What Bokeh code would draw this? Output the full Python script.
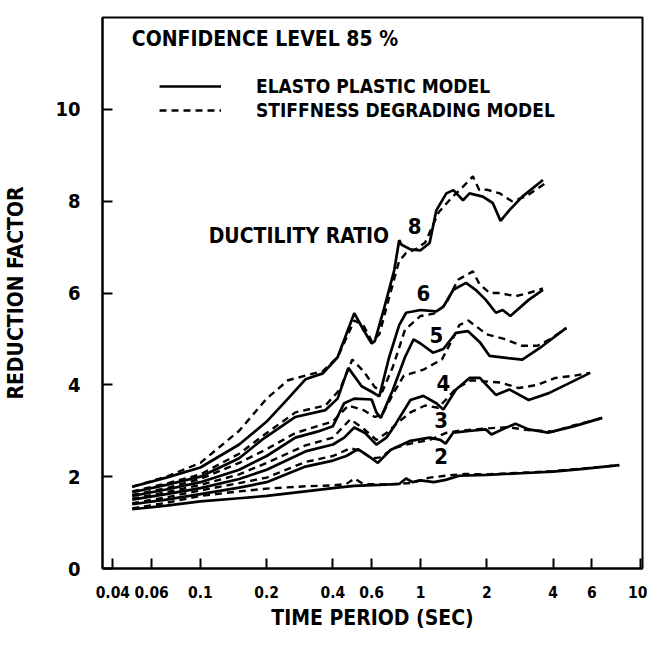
from bokeh.plotting import figure
from bokeh.models import (Range1d, FixedTicker, CustomJSTickFormatter, Legend, LegendItem, Label)
from bokeh.embed import file_html
from bokeh.resources import INLINE

FONT = "DejaVu Sans Condensed"

# ---- data ----
x_ticks = [0.04, 0.06, 0.1, 0.2, 0.4, 0.6, 1, 2, 4, 6, 10]
y_ticks = [0, 2, 4, 6, 8, 10]

EP2_T = [0.049, 0.07, 0.1, 0.15, 0.2, 0.3, 0.4, 0.5, 0.65, 0.8, 0.86, 0.92, 1.0, 1.15, 1.3, 1.5, 2.0, 3.0, 4.0, 5.5, 8.0]
EP2_R = [1.29, 1.37, 1.46, 1.53, 1.58, 1.68, 1.75, 1.80, 1.82, 1.84, 1.96, 1.88, 1.92, 1.88, 1.93, 2.02, 2.04, 2.08, 2.11, 2.17, 2.25]
SD2_T = [0.049, 0.07, 0.1, 0.15, 0.2, 0.3, 0.4, 0.46, 0.5, 0.55, 0.7, 0.9, 1.1, 1.3, 1.6, 2.0, 3.0, 4.0, 5.5, 8.0]
SD2_R = [1.31, 1.43, 1.58, 1.68, 1.74, 1.79, 1.81, 1.84, 1.96, 1.84, 1.83, 1.86, 1.98, 2.02, 2.06, 2.05, 2.09, 2.12, 2.18, 2.25]

EP3_T = [0.049, 0.07, 0.1, 0.15, 0.2, 0.3, 0.4, 0.46, 0.52, 0.58, 0.64, 0.73, 0.9, 1.1, 1.23, 1.3, 1.41, 1.7, 1.98, 2.1, 2.4, 2.7, 3.1, 3.8, 5.0, 6.7]
EP3_R = [1.40, 1.50, 1.62, 1.76, 1.88, 2.22, 2.35, 2.45, 2.60, 2.45, 2.30, 2.58, 2.78, 2.85, 2.80, 2.72, 2.96, 3.00, 3.03, 2.92, 3.05, 3.15, 3.03, 2.96, 3.10, 3.28]
SD3_T = [0.049, 0.07, 0.1, 0.15, 0.2, 0.3, 0.4, 0.48, 0.54, 0.6, 0.66, 0.75, 0.9, 1.1, 1.3, 1.5, 2.0, 2.5, 3.0, 4.0, 5.0, 6.7]
SD3_R = [1.42, 1.55, 1.70, 1.86, 1.98, 2.32, 2.45, 2.62, 2.55, 2.40, 2.42, 2.62, 2.72, 2.80, 2.95, 3.00, 3.05, 3.08, 3.02, 2.98, 3.12, 3.28]

EP4_T = [0.049, 0.07, 0.1, 0.15, 0.2, 0.3, 0.4, 0.45, 0.5, 0.56, 0.63, 0.7, 0.76, 0.9, 1.03, 1.18, 1.27, 1.45, 1.67, 1.86, 2.2, 2.53, 3.1, 3.83, 5.9]
EP4_R = [1.50, 1.62, 1.75, 1.95, 2.15, 2.55, 2.70, 2.85, 3.07, 2.95, 2.70, 2.85, 3.10, 3.67, 3.76, 3.60, 3.46, 3.90, 4.15, 4.15, 3.78, 3.90, 3.67, 3.82, 4.26]
SD4_T = [0.049, 0.07, 0.1, 0.15, 0.2, 0.3, 0.4, 0.48, 0.55, 0.63, 0.7, 0.8, 0.9, 1.05, 1.2, 1.3, 1.45, 1.7, 1.92, 2.3, 2.8, 3.4, 4.1, 5.0, 5.9]
SD4_R = [1.52, 1.66, 1.82, 2.05, 2.30, 2.68, 2.85, 3.25, 3.05, 2.80, 2.95, 3.20, 3.40, 3.55, 3.50, 3.67, 3.92, 4.10, 4.08, 4.05, 3.93, 4.00, 4.15, 4.20, 4.26]

EP5_T = [0.049, 0.07, 0.1, 0.15, 0.2, 0.27, 0.34, 0.4, 0.45, 0.5, 0.6, 0.63, 0.66, 0.75, 0.85, 0.93, 1.0, 1.14, 1.27, 1.45, 1.64, 1.86, 2.06, 2.5, 2.9, 3.57, 4.6]
EP5_R = [1.58, 1.72, 1.88, 2.15, 2.45, 2.85, 2.98, 3.10, 3.60, 3.70, 3.68, 3.40, 3.28, 3.90, 4.60, 4.99, 4.90, 4.70, 4.78, 5.13, 5.17, 4.93, 4.63, 4.58, 4.55, 4.84, 5.24]
SD5_T = [0.049, 0.07, 0.1, 0.15, 0.2, 0.27, 0.34, 0.4, 0.47, 0.55, 0.62, 0.67, 0.75, 0.84, 1.03, 1.25, 1.4, 1.5, 1.65, 2.0, 2.4, 2.9, 3.4, 3.9, 4.6]
SD5_R = [1.60, 1.75, 1.95, 2.30, 2.60, 2.95, 3.10, 3.20, 3.55, 3.45, 3.30, 3.35, 3.80, 4.20, 4.33, 4.55, 5.00, 5.30, 5.40, 5.10, 5.00, 4.85, 4.85, 5.00, 5.24]

EP6_T = [0.049, 0.07, 0.1, 0.15, 0.19, 0.27, 0.37, 0.42, 0.47, 0.54, 0.6, 0.65, 0.72, 0.8, 0.86, 1.0, 1.18, 1.27, 1.41, 1.61, 1.78, 1.98, 2.2, 2.36, 2.56, 3.1, 3.6]
EP6_R = [1.66, 1.82, 2.00, 2.40, 2.80, 3.30, 3.45, 3.70, 4.37, 3.97, 3.85, 3.75, 4.60, 5.30, 5.57, 5.63, 5.60, 5.70, 6.07, 6.22, 6.07, 5.85, 5.57, 5.63, 5.50, 5.85, 6.07]
SD6_T = [0.049, 0.07, 0.1, 0.15, 0.2, 0.27, 0.37, 0.43, 0.49, 0.55, 0.62, 0.67, 0.75, 0.85, 1.0, 1.15, 1.3, 1.48, 1.73, 1.85, 2.06, 2.29, 2.7, 3.1, 3.6]
SD6_R = [1.68, 1.85, 2.05, 2.50, 2.95, 3.40, 3.55, 3.90, 4.55, 4.30, 3.95, 3.85, 4.40, 5.20, 5.50, 5.55, 5.75, 6.29, 6.47, 6.20, 6.00, 6.00, 5.93, 6.00, 6.10]

EP8_T = [0.049, 0.07, 0.1, 0.15, 0.2, 0.25, 0.3, 0.36, 0.42, 0.5, 0.55, 0.6, 0.62, 0.68, 0.76, 0.8, 0.82, 0.9, 1.0, 1.1, 1.18, 1.31, 1.41, 1.56, 1.67, 1.92, 2.13, 2.31, 2.53, 2.9, 3.6]
EP8_R = [1.78, 1.98, 2.20, 2.70, 3.20, 3.70, 4.12, 4.25, 4.60, 5.56, 5.20, 4.90, 4.95, 5.63, 6.50, 7.15, 7.05, 6.95, 6.93, 7.09, 7.80, 8.17, 8.24, 8.02, 8.17, 8.10, 7.96, 7.57, 7.80, 8.10, 8.46]
SD8_T = [0.049, 0.07, 0.1, 0.15, 0.2, 0.25, 0.3, 0.36, 0.42, 0.5, 0.55, 0.6, 0.65, 0.72, 0.8, 0.86, 0.95, 1.05, 1.21, 1.4, 1.55, 1.73, 1.85, 2.0, 2.29, 2.6, 3.0, 3.7]
SD8_R = [1.78, 2.00, 2.30, 3.00, 3.70, 4.10, 4.20, 4.30, 4.60, 5.40, 5.30, 4.95, 5.10, 5.90, 6.70, 6.87, 6.95, 7.10, 7.76, 8.10, 8.30, 8.54, 8.24, 8.25, 8.17, 8.00, 8.10, 8.39]

ductility_labels = ["8", "6", "5", "4", "3", "2"]
label_T = [0.94, 1.03, 1.18, 1.27, 1.24, 1.24]
label_R = [7.45, 6.00, 5.09, 4.04, 3.24, 2.45]

ep_series = [(EP2_T, EP2_R), (EP3_T, EP3_R), (EP4_T, EP4_R), (EP5_T, EP5_R), (EP6_T, EP6_R), (EP8_T, EP8_R)]
sd_series = [(SD2_T, SD2_R), (SD3_T, SD3_R), (SD4_T, SD4_R), (SD5_T, SD5_R), (SD6_T, SD6_R), (SD8_T, SD8_R)]

p = figure(width=647, height=632, x_axis_type="log",
           x_range=Range1d(0.0359, 10.2), y_range=Range1d(0, 12),
           output_backend="svg", toolbar_location=None,
           min_border_left=102, min_border_right=5, min_border_top=17, min_border_bottom=64)

p.background_fill_color = "white"
p.border_fill_color = "white"
p.outline_line_color = "black"
p.outline_line_width = 2
p.xgrid.visible = False
p.ygrid.visible = False

ep_r = None
sd_r = None
for (t, r) in ep_series:
    ep_r = p.line(t, r, line_color="black", line_width=2.7)
for (t, r) in sd_series:
    sd_r = p.line(t, r, line_color="black", line_width=2.4, line_dash="7 5")

legend = Legend(items=[LegendItem(label="ELASTO PLASTIC MODEL", renderers=[ep_r]),
                       LegendItem(label="STIFFNESS DEGRADING MODEL", renderers=[sd_r])],
                location=(57, 446), orientation="vertical",
                glyph_width=62, glyph_height=24, label_height=24, label_standoff=35,
                spacing=0, padding=0, margin=0,
                border_line_color=None, background_fill_alpha=0,
                label_text_font=FONT, label_text_font_style="bold", label_text_font_size="19px",
                label_text_color="black")
p.add_layout(legend)

for lbl, t, r in zip(ductility_labels, label_T, label_R):
    p.add_layout(Label(x=t, y=r, text=lbl, text_align="center", text_baseline="middle",
                       text_font=FONT, text_font_style="bold", text_font_size="22px",
                       text_color="black"))

p.add_layout(Label(x=0.0488, y=11.54, text="CONFIDENCE LEVEL 85 %", text_align="left",
                   text_baseline="middle", text_font=FONT, text_font_style="bold",
                   text_font_size="21px", text_color="black"))
p.add_layout(Label(x=0.109, y=7.24, text="DUCTILITY RATIO", text_align="left",
                   text_baseline="middle", text_font=FONT, text_font_style="bold",
                   text_font_size="21px", text_color="black"))

xa = p.xaxis[0]
xa.ticker = FixedTicker(ticks=x_ticks)
xa.formatter = CustomJSTickFormatter(code="return tick.toString();")
xa.axis_label = "TIME PERIOD (SEC)"
ya = p.yaxis[0]
ya.ticker = FixedTicker(ticks=y_ticks)
ya.axis_label = "REDUCTION FACTOR"

for ax in (xa, ya):
    ax.axis_line_width = 2
    ax.axis_line_color = "black"
    ax.major_tick_in = 10
    ax.major_tick_out = 0
    ax.major_tick_line_width = 2
    ax.minor_tick_line_color = None
    ax.major_label_text_font = FONT
    ax.major_label_text_font_style = "bold"
    ax.axis_label_text_font = FONT
    ax.axis_label_text_font_style = "bold"
    ax.axis_label_text_font_size = "21px"
    ax.major_label_text_color = "black"
    ax.axis_label_text_color = "black"

xa.major_label_text_font_size = "15.5px"
ya.major_label_text_font_size = "20px"
xa.major_label_standoff = 17
xa.axis_label_standoff = 5
ya.major_label_standoff = 22
ya.axis_label_standoff = 24

open("out.html", "w").write(file_html(p, INLINE))
